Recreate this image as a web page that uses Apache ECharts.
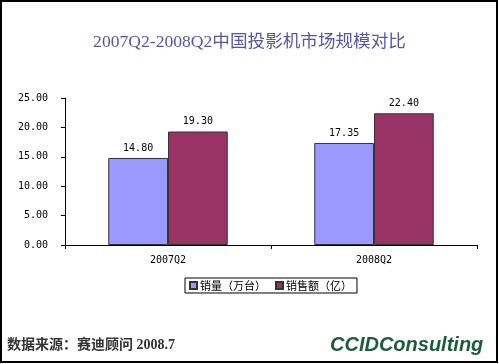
<!DOCTYPE html>
<html><head><meta charset="utf-8">
<script src="https://cdn.jsdelivr.net/npm/echarts@6/dist/echarts.min.js"></script>
<style>html,body{margin:0;padding:0;background:#fff}#c{width:499px;height:364px}</style>
</head><body><div id="c"></div>
<script>
const categories = ['2007Q2', '2008Q2'];
const seriesNames = ['销量（万台）', '销售额（亿）'];
const salesVolume = [14.80, 17.35];
const salesValue = [19.30, 22.40];
const yTicks = [0, 5, 10, 15, 20, 25];

const chart = echarts.init(document.getElementById('c'), null, {renderer: 'canvas'});
const mono = 'DejaVu Sans Mono, monospace';
const lbl = {show: true, position: 'top', distance: 5, fontFamily: mono, fontSize: 10, color: '#000', formatter: p => p.value.toFixed(2)};
chart.setOption({
  animation: false,
  backgroundColor: '#fff',
  title: {
    text: '2007Q2-2008Q2中国投影机市场规模对比',
    left: 'center', top: 29,
    textStyle: {fontFamily: 'Liberation Serif, Noto Sans CJK SC', fontSize: 17.6, fontWeight: 'normal', color: '#5555AA'}
  },
  legend: {
    data: seriesNames,
    left: 185, top: 278,
    padding: [2, 5, 2, 4],
    itemGap: 9,
    itemWidth: 7, itemHeight: 7,
    icon: 'rect',
    borderColor: '#000', borderWidth: 1,
    textStyle: {fontFamily: 'Noto Sans CJK SC', fontSize: 11, color: '#000', padding: [0, 0, 0, -2]}
  },
  grid: {left: 65, right: 22, top: 98, bottom: 119},
  xAxis: {
    type: 'category', data: categories,
    axisLine: {lineStyle: {color: '#000', width: 1}},
    axisTick: {show: true, length: 4, lineStyle: {color: '#000'}},
    axisLabel: {fontFamily: mono, fontSize: 10, color: '#000', margin: 10}
  },
  yAxis: {
    type: 'value', min: yTicks[0], max: yTicks[yTicks.length - 1], interval: 5,
    axisLine: {show: true, lineStyle: {color: '#000', width: 1}},
    axisTick: {show: true, length: 4, lineStyle: {color: '#000'}},
    splitLine: {show: false},
    axisLabel: {fontFamily: mono, fontSize: 10, color: '#000', margin: 17, formatter: v => v.toFixed(2)}
  },
  series: [
    {name: seriesNames[0], type: 'bar', data: salesVolume, barGap: '0%', barCategoryGap: '42%',
     itemStyle: {color: '#9999FF', borderColor: '#333', borderWidth: 1}, label: lbl},
    {name: seriesNames[1], type: 'bar', data: salesValue,
     itemStyle: {color: '#993366', borderColor: '#333', borderWidth: 1}, label: lbl}
  ],
  graphic: [
    {type: 'rect', shape: {x: 1, y: 1, width: 496, height: 361}, style: {fill: 'none', stroke: '#000', lineWidth: 2}, silent: true},
    {type: 'text', left: 7, top: 338, style: {text: '数据来源：赛迪顾问 2008.7', font: 'bold 14px "Liberation Serif", "Noto Sans CJK SC"', fill: '#333'}},
    {type: 'text', left: 330, top: 335, style: {text: 'CCIDConsulting', font: 'italic bold 20px "Liberation Sans", Arial', fill: '#1D5C3C'}}
  ]
});
</script></body></html>
